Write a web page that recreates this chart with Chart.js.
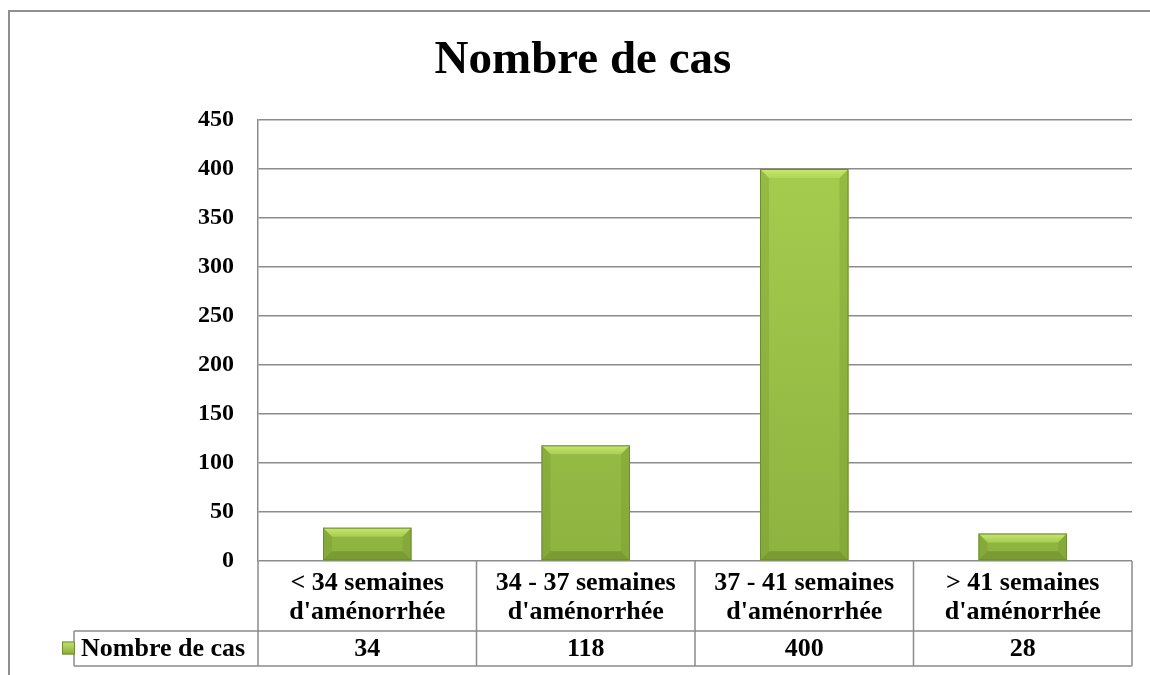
<!DOCTYPE html>
<html>
<head>
<meta charset="utf-8">
<script src="https://cdn.jsdelivr.net/npm/chart.js@4.4.0/dist/chart.umd.min.js"></script>
<style>
  html, body { margin: 0; padding: 0; background: #fff; }
  #wrap { width: 1150px; height: 675px; position: relative; }
</style>
</head>
<body>
<div id="wrap"><canvas id="chart" width="1150" height="675"></canvas></div>
<script>
// Données
const categories = [
    ['< 34 semaines', "d'aménorrhée"],
    ['34 - 37 semaines', "d'aménorrhée"],
    ['37 - 41 semaines', "d'aménorrhée"],
    ['> 41 semaines', "d'aménorrhée"]
];
const nombreDeCas = [34, 118, 400, 28];
const seriesLabel = 'Nombre de cas';
const yTicks = [0, 50, 100, 150, 200, 250, 300, 350, 400, 450];

const FONT = "'Liberation Serif', 'Times New Roman', serif";
const LINE = '#8c8c8c';

// Cadre extérieur (bord gauche et haut)
const framePlugin = {
    id: 'frame',
    beforeDraw: (chart) => {
        const ctx = chart.ctx;
        ctx.save();
        ctx.strokeStyle = '#8f8f8f';
        ctx.lineWidth = 2;
        ctx.beginPath();
        ctx.moveTo(9, 675);
        ctx.lineTo(9, 11);
        ctx.lineTo(1150, 11);
        ctx.stroke();
        ctx.restore();
    }
};

// Effet biseauté sur les barres
const bevelPlugin = {
    id: 'bevel',
    afterDatasetsDraw: (chart) => {
        const ctx = chart.ctx;
        const meta = chart.getDatasetMeta(0);
        ctx.save();
        meta.data.forEach(bar => {
            const { x, y, base, width } = bar.getProps(['x', 'y', 'base', 'width'], true);
            const l = x - width / 2, r = x + width / 2, t = y, b = base;
            const h = b - t;
            const bv = Math.min(9, h / 2, width / 2);
            // haut clair
            const gt = ctx.createLinearGradient(0, t, 0, t + bv);
            gt.addColorStop(0, 'rgba(205,238,115,0.9)');
            gt.addColorStop(1, 'rgba(185,222,95,0.6)');
            ctx.fillStyle = gt;
            ctx.beginPath();
            ctx.moveTo(l, t); ctx.lineTo(r, t); ctx.lineTo(r - bv, t + bv); ctx.lineTo(l + bv, t + bv);
            ctx.closePath(); ctx.fill();
            // côtés
            ctx.fillStyle = 'rgba(110,145,40,0.28)';
            ctx.beginPath();
            ctx.moveTo(l, t); ctx.lineTo(l + bv, t + bv); ctx.lineTo(l + bv, b - bv); ctx.lineTo(l, b);
            ctx.closePath(); ctx.fill();
            ctx.beginPath();
            ctx.moveTo(r, t); ctx.lineTo(r - bv, t + bv); ctx.lineTo(r - bv, b - bv); ctx.lineTo(r, b);
            ctx.closePath(); ctx.fill();
            // bas sombre
            ctx.fillStyle = 'rgba(90,120,30,0.4)';
            ctx.beginPath();
            ctx.moveTo(l, b); ctx.lineTo(r, b); ctx.lineTo(r - bv, b - bv); ctx.lineTo(l + bv, b - bv);
            ctx.closePath(); ctx.fill();
            ctx.strokeStyle = '#6e8c32';
            ctx.lineWidth = 1;
            ctx.strokeRect(l + 0.5, t + 0.5, width - 1, h - 1);
        });
        ctx.restore();
    }
};

// Table de données sous l'axe
const tablePlugin = {
    id: 'dataTable',
    afterDraw: (chart) => {
        const ctx = chart.ctx;
        const xs = chart.scales.x;
        const area = chart.chartArea;
        const n = categories.length;
        const cw = (area.right - area.left) / n;
        const y0 = area.bottom, y1 = y0 + 70, y2 = y1 + 35;
        const legendLeft = 74;

        ctx.save();
        ctx.strokeStyle = LINE;
        ctx.lineWidth = 1.5;
        ctx.beginPath();
        ctx.moveTo(legendLeft, y1); ctx.lineTo(area.right, y1);
        ctx.moveTo(legendLeft, y2); ctx.lineTo(area.right, y2);
        ctx.moveTo(legendLeft, y1); ctx.lineTo(legendLeft, y2);
        ctx.moveTo(area.left, y0); ctx.lineTo(area.left, y2);
        for (let i = 0; i < n; i++) {
            const right = xs.getPixelForValue(i) + cw / 2;
            ctx.moveTo(right, y0); ctx.lineTo(right, y2);
        }
        ctx.stroke();

        ctx.fillStyle = '#000';
        ctx.font = `bold 26px ${FONT}`;
        ctx.textAlign = 'center';
        ctx.textBaseline = 'middle';
        categories.forEach((lines, i) => {
            const cx = xs.getPixelForValue(i);
            ctx.fillText(lines[0], cx, y0 + 22);
            ctx.fillText(lines[1], cx, y0 + 51);
            ctx.fillText(String(nombreDeCas[i]), cx, (y1 + y2) / 2 + 1);
        });

        // clé de légende
        const ky = (y1 + y2) / 2;
        const g = ctx.createLinearGradient(0, ky - 7, 0, ky + 7);
        g.addColorStop(0, '#c4e06a');
        g.addColorStop(1, '#86a83a');
        ctx.fillStyle = g;
        ctx.fillRect(62, ky - 7, 13, 13);
        ctx.strokeStyle = '#6e8c32';
        ctx.lineWidth = 1;
        ctx.strokeRect(62.5, ky - 6.5, 12, 12);
        ctx.fillStyle = '#000';
        ctx.textAlign = 'left';
        ctx.fillText(seriesLabel, 81, ky + 1);
        ctx.restore();
    }
};

const canvas = document.getElementById('chart');
const chart = new Chart(canvas, {
    type: 'bar',
    data: {
        labels: categories,
        datasets: [{
            label: seriesLabel,
            data: nombreDeCas,
            backgroundColor: (context) => {
                const area = context.chart.chartArea;
                if (!area) return '#9bc247';
                const g = context.chart.ctx.createLinearGradient(0, area.top, 0, area.bottom);
                g.addColorStop(0, '#a8cf50');
                g.addColorStop(1, '#8eb340');
                return g;
            },
            borderWidth: 0,
            barPercentage: 0.405,
            categoryPercentage: 1
        }]
    },
    options: {
        responsive: false,
        animation: false,
        devicePixelRatio: 1,
        layout: { padding: { left: 34, right: 18, top: 0, bottom: 0 } },
        plugins: {
            legend: { display: false },
            tooltip: { enabled: false },
            title: {
                display: true,
                text: 'Nombre de cas',
                color: '#000',
                font: { family: FONT, size: 47, weight: 'bold', lineHeight: 1.2 },
                padding: { top: 33, bottom: 30.6 }
            }
        },
        scales: {
            x: {
                grid: { display: false },
                border: { display: false },
                ticks: { display: false },
                afterFit: (scale) => { scale.height = 114; }
            },
            y: {
                min: 0,
                max: 450,
                afterBuildTicks: (scale) => { scale.ticks = yTicks.map(v => ({ value: v })); },
                afterFit: (scale) => { scale.width = 224; },
                grid: { color: LINE, lineWidth: 1.5, drawTicks: false },
                border: { display: true, color: LINE, width: 1.5 },
                ticks: {
                    padding: 24,
                    color: '#000',
                    font: { family: FONT, size: 24, weight: 'bold' }
                }
            }
        }
    },
    plugins: [framePlugin, bevelPlugin, tablePlugin]
});
</script>
</body>
</html>
